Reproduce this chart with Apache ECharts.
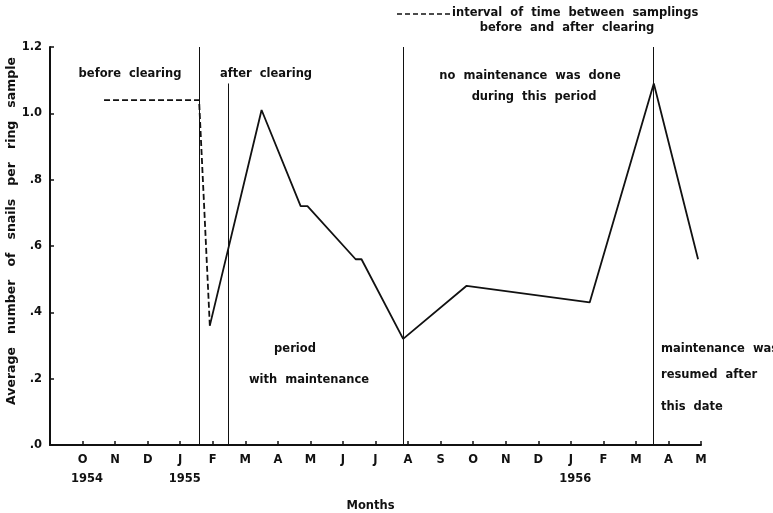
<!DOCTYPE html>
<html>
<head>
<meta charset="utf-8">
<script src="https://cdn.jsdelivr.net/npm/echarts@6/dist/echarts.min.js"></script>
<style>
  html, body { margin: 0; padding: 0; background: #fff; }
  #chart { width: 773px; height: 513px; }
</style>
</head>
<body>
<div id="chart"></div>
<script>
// Months counted from September 1954 (0) to May 1956 (20)
const monthLabels = ['', 'O', 'N', 'D', 'J', 'F', 'M', 'A', 'M', 'J', 'J', 'A',
                     'S', 'O', 'N', 'D', 'J', 'F', 'M', 'A', 'M'];
const yearLabels = { 1: '1954', 4: '1955', 16: '1956' };
const yTickLabels = ['.0', '.2', '.4', '.6', '.8', '1.0', '1.2'];

// Sampling before clearing and the interval up to the first sample after clearing
const beforeClearing = [[1.66, 1.04], [4.58, 1.04], [4.91, 0.36]];
// Samples after clearing
const afterClearing = [
  [4.91, 0.36], [6.50, 1.01], [7.70, 0.72], [7.91, 0.72], [9.39, 0.56],
  [9.57, 0.56], [10.85, 0.32], [12.80, 0.48], [16.58, 0.43], [18.55, 1.09],
  [19.91, 0.56]
];
// Event dates (vertical rules) and how high each rule reaches
const eventDates = [4.58, 5.47, 10.85, 18.52];
const eventTops = [1.2, 1.09, 1.2, 1.2];

const FONT = 'DejaVu Sans';
const ink = '#111';

const chart = echarts.init(document.getElementById('chart'));

function note(text, x, y, align) {
  return {
    type: 'text', x: x, y: y,
    style: {
      text: text, fill: ink, font: 'bold 11.5px "' + FONT + '"',
      align: align || 'left', verticalAlign: 'middle'
    }
  };
}

chart.setOption({
  animation: false,
  backgroundColor: '#fff',
  grid: { left: 50, right: 72, top: 47, bottom: 68, outerBoundsMode: 'none', containLabel: false },
  xAxis: {
    type: 'value', min: 0, max: 20, interval: 1,
    axisLine: { lineStyle: { color: ink, width: 2 } },
    axisTick: { inside: true, length: 4, lineStyle: { color: ink, width: 1.5 } },
    splitLine: { show: false },
    axisLabel: {
      margin: 6, color: ink, fontFamily: FONT, fontWeight: 'bold', fontSize: 11.5,
      lineHeight: 19,
      formatter: function (v) {
        const m = monthLabels[v] || '';
        return yearLabels[v] ? m + '\n{yr|' + yearLabels[v] + '}' : m;
      },
      rich: {
        yr: {
          color: ink, fontFamily: FONT, fontWeight: 'bold', fontSize: 11.5,
          lineHeight: 19, padding: [0, 0, 0, 9]
        }
      }
    },
    name: 'Months', nameLocation: 'middle', nameGap: 55,
    nameTextStyle: {
      color: ink, fontFamily: FONT, fontWeight: 'bold', fontSize: 11.5,
      padding: [0, 10, 0, 0]
    }
  },
  yAxis: {
    type: 'value', min: 0, max: 1.2, interval: 0.2,
    axisLine: { show: true, lineStyle: { color: ink, width: 2 } },
    axisTick: { show: true, inside: true, length: 4, lineStyle: { color: ink, width: 1.5 } },
    splitLine: { show: false },
    axisLabel: {
      margin: 8, color: ink, fontFamily: FONT, fontWeight: 'bold', fontSize: 11.5,
      formatter: function (v) { return yTickLabels[Math.round(v / 0.2)]; }
    },
    name: 'Average   number   of   snails   per   ring   sample',
    nameLocation: 'middle', nameGap: 32, nameRotate: 90, nameMoveOverlap: false,
    nameTextStyle: {
      color: ink, fontFamily: FONT, fontWeight: 'bold', fontSize: 12.5,
      padding: [0, 0, 0, 30]
    }
  },
  series: [
    {
      type: 'line', data: beforeClearing, symbol: 'none',
      lineStyle: { color: ink, width: 1.8, type: [6, 3] }
    },
    {
      type: 'line', data: afterClearing, symbol: 'none',
      lineStyle: { color: ink, width: 1.8 },
      markLine: {
        silent: true, symbol: 'none', label: { show: false },
        lineStyle: { color: ink, width: 1, type: 'solid' },
        data: eventDates.map(function (d, i) {
          return [{ coord: [d, 0] }, { coord: [d, eventTops[i]] }];
        })
      }
    }
  ],
  graphic: [
    note('before  clearing', 130, 74, 'center'),
    note('after  clearing', 266, 74, 'center'),
    note('no  maintenance  was  done', 530, 76, 'center'),
    note('during  this  period', 534, 97, 'center'),
    note('period', 295, 349, 'center'),
    note('with  maintenance', 309, 380, 'center'),
    note('maintenance  was', 661, 349),
    note('resumed  after', 661, 375),
    note('this  date', 661, 407),
    {
      type: 'line',
      shape: { x1: 397, y1: 14, x2: 450, y2: 14 },
      style: { stroke: ink, lineWidth: 1.6, lineDash: [5, 3] }
    },
    note('interval  of  time  between  samplings', 452, 13),
    note('before  and  after  clearing', 567, 28, 'center')
  ]
});
</script>
</body>
</html>
